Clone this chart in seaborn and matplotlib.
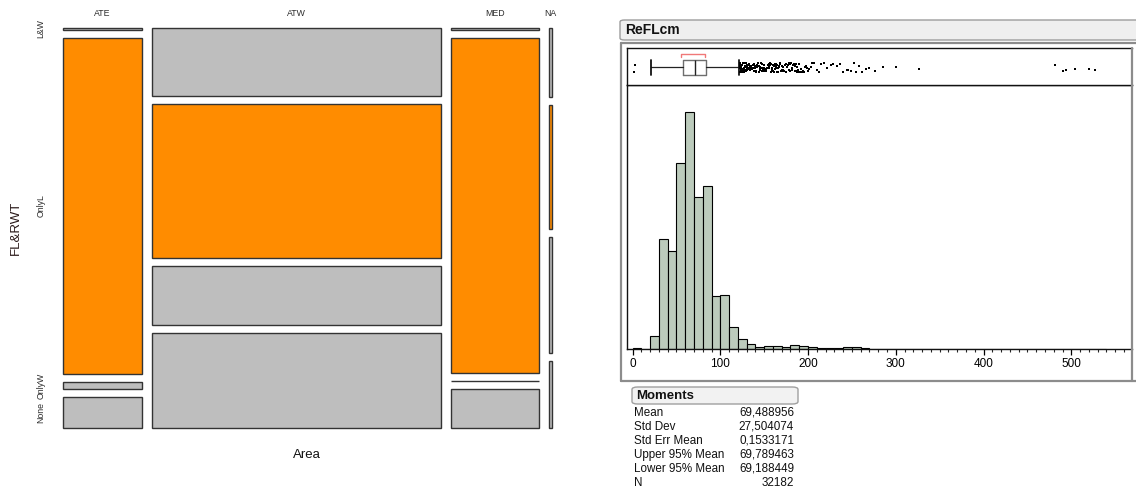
import numpy as np
import pandas as pd
import matplotlib
matplotlib.use("Agg")
import matplotlib.pyplot as plt
from matplotlib import transforms
from matplotlib.patches import FancyBboxPatch
from matplotlib.lines import Line2D
import seaborn as sns

# ---------------- data ----------------
# Mosaic of FL&RWT within Area (counts, rows in fl_rwt order)
areas = ["ATE", "ATW", "MED", "NA"]
fl_rwt = ["L&W", "OnlyL", "OnlyW", "None"]
ate_counts = [30, 4942, 103, 455]
atw_counts = [3679, 8278, 3192, 5141]
med_counts = [25, 5490, 0, 635]
na_counts = [39, 70, 65, 38]

# ReFLcm distribution: counts per 10 cm bin starting at 0
bin_width = 10
reflcm_counts = [30, 8, 380, 3115, 2766, 5274, 6710, 4308, 4612, 1488,
                 1517, 636, 284, 142, 48, 97, 97, 68, 125, 97,
                 48, 28, 28, 20, 48, 48, 20, 14, 12, 12,
                 14, 6, 14, 4, 0, 0, 0, 0, 0, 0,
                 0, 0, 0, 0, 0, 0, 0, 0, 10, 12,
                 12, 12, 12, 6]

# Outlier box plot summary
box_q1, box_median, box_q3 = 57, 71, 84
whisker_low, whisker_high = 21, 121
shortest_half = (55, 83)
outlier_values = [2, 3,
                  122, 122, 122, 123, 123, 123, 124, 124, 124, 125, 125, 125,
                  126, 126, 126, 127, 127, 127, 128, 128, 128, 129, 129, 129,
                  130, 130, 130, 131, 131, 131, 132, 132, 132, 133, 133, 133,
                  134, 134, 135, 135, 135, 136, 136, 137, 137, 138, 138, 138,
                  139, 139, 140, 140, 140, 141, 141, 142, 142, 143, 143, 144,
                  144, 145, 145, 145, 146, 146, 147, 147, 148, 148, 149, 149,
                  150, 150, 150, 151, 151, 152, 152, 153, 153, 154, 154, 155,
                  155, 155, 156, 156, 157, 157, 158, 158, 159, 159, 160, 160,
                  160, 161, 161, 162, 162, 163, 163, 164, 164, 165, 165, 165,
                  166, 166, 167, 167, 168, 168, 169, 170, 170, 171, 172, 172,
                  173, 174, 175, 175, 176, 177, 178, 178, 180, 180, 181, 182,
                  182, 183, 184, 185, 185, 186, 187, 188, 188, 189, 190, 190,
                  191, 192, 193, 194, 195, 196, 198, 199, 200, 201, 203, 205,
                  207, 210, 212, 215, 218, 222, 226, 229, 233, 236, 240, 244,
                  246, 249, 252, 255, 258, 262, 266, 270, 276, 285, 300, 326,
                  482, 490, 494, 504, 520, 527]

moment_labels = ["Mean", "Std Dev", "Std Err Mean", "Upper 95% Mean",
                 "Lower 95% Mean", "N"]
moment_values = ["69,488956", "27,504074", "0,1533171", "69,789463",
                 "69,188449", "32182"]

# ---------------- style ----------------
sns.set_style("white")
plt.rcParams["font.family"] = ["Liberation Sans", "DejaVu Sans"]
narrow = ["Liberation Sans Narrow", "Liberation Sans", "DejaVu Sans"]

W, H = 1136, 490
fig = plt.figure(figsize=(W / 100, H / 100), dpi=100)


def rect(x0, y0, x1, y1):
    return [x0 / W, 1 - y1 / H, (x1 - x0) / W, (y1 - y0) / H]


def fx(x):
    return x / W


def fy(y):
    return 1 - y / H


# ---------------- mosaic plot ----------------
ax_m = fig.add_axes(rect(63, 28, 552, 428))
counts = np.array([ate_counts, atw_counts, med_counts, na_counts], dtype=float).T
row_colors = ["#BEBEBE", "#FF8C00", "#BEBEBE", "#BEBEBE"]
nrow, ncol = counts.shape
hgap, vgap = 10 / 489, 8 / 400
col_totals = counts.sum(axis=0)
widths = col_totals / col_totals.sum() * (1 - hgap * (ncol - 1))
lefts = np.concatenate([[0], np.cumsum(widths + hgap)[:-1]])
row_tops_first = None
for j in range(ncol):
    heights = counts[:, j] / col_totals[j] * (1 - vgap * (nrow - 1))
    tops = np.concatenate([[0], np.cumsum(heights + vgap)[:-1]])
    bars = ax_m.bar(np.full(nrow, lefts[j]), heights, width=widths[j], bottom=tops,
                    align="edge", color=row_colors, edgecolor="#333333",
                    linewidth=1.0)
    for b in bars:
        b.set_clip_on(False)
    if j == 0:
        row_tops_first = tops + heights / 2
ax_m.set_xlim(0, 1)
ax_m.set_ylim(1, 0)
ax_m.axis("off")

top_tr = transforms.blended_transform_factory(ax_m.transData, fig.transFigure)
for j, name in enumerate(areas):
    ax_m.text(lefts[j] + widths[j] / 2, fy(14), name, transform=top_tr,
              ha="center", va="center", fontsize=6.3, color="#2b2b2b",
              family=narrow)
left_tr = transforms.blended_transform_factory(fig.transFigure, ax_m.transData)
for i, name in enumerate(fl_rwt):
    ax_m.text(fx(41), row_tops_first[i], name, transform=left_tr, rotation=90,
              ha="center", va="center", fontsize=6.3, color="#2b2b2b",
              family=narrow)
fig.text(fx(16), fy(228), "FL&RWT", rotation=90, ha="center", va="center",
         fontsize=9.5, color="#2a1a1a", family=narrow)
fig.text(fx(307), fy(455), "Area", ha="center", va="center",
         fontsize=9.5, color="#111111", family=narrow)

# ---------------- ReFLcm report ----------------
xlim = (-6.3, 569.2)

# title bar
fig.add_artist(FancyBboxPatch((fx(620), fy(40)), fx(1140) - fx(620), fy(20) - fy(40),
                              boxstyle="round,pad=0,rounding_size=0.004",
                              transform=fig.transFigure, facecolor="#EFEFEF",
                              edgecolor="#9C9C9C", linewidth=1.0))
fig.text(fx(625), fy(30.5), "ReFLcm", ha="left", va="center", fontsize=10,
         fontweight="bold", color="#111111")

# outer frame
frame_kw = dict(transform=fig.transFigure, color="#8C8C8C", linewidth=1.6)
fig.add_artist(Line2D([fx(621), fx(1136)], [fy(43), fy(43)], **frame_kw))
fig.add_artist(Line2D([fx(621), fx(621)], [fy(43), fy(381)], **frame_kw))
fig.add_artist(Line2D([fx(621), fx(1136)], [fy(381), fy(381)], **frame_kw))
fig.add_artist(Line2D([fx(1132), fx(1132)], [fy(48), fy(381)], **frame_kw))

# histogram panel
ax_h = fig.add_axes(rect(627, 85, 1132, 349))
bin_edges = [i * bin_width for i in range(len(reflcm_counts) + 1)]
hist_df = pd.DataFrame({"ReFLcm": [e + bin_width / 2 for e in bin_edges[:-1]],
                        "n": reflcm_counts})
sns.histplot(data=hist_df, x="ReFLcm", weights="n", bins=bin_edges, ax=ax_h,
             color="#BCCBBC", edgecolor="black", linewidth=0.8, alpha=1)
ax_h.set_xlim(*xlim)
ax_h.set_ylim(0, 7474)
ax_h.set_ylabel("")
ax_h.set_xlabel("")
ax_h.set_yticks([])
ax_h.set_xticks(np.arange(0, 501, 100))
ax_h.set_xticks(np.arange(0, 570, 10), minor=True)
ax_h.tick_params(axis="x", which="major", direction="out", length=4.5,
                 width=0.9, pad=2, labelsize=8.5, colors="black", bottom=True)
ax_h.tick_params(axis="x", which="minor", direction="out", length=2.5,
                 width=0.8, bottom=True)
ax_h.spines["right"].set_visible(False)
for s in ["left", "bottom", "top"]:
    ax_h.spines[s].set_color("#111111")
    ax_h.spines[s].set_linewidth(1.0)

# box plot panel
ax_b = fig.add_axes(rect(627, 48, 1132, 85))
np.random.seed(7)
sns.stripplot(x=outlier_values, ax=ax_b, color="black", marker="s", size=2.0,
              jitter=0.25, linewidth=0, orient="h")
ax_b.bxp([{"med": box_median, "q1": box_q1, "q3": box_q3,
           "whislo": whisker_low, "whishi": whisker_high, "fliers": []}],
         positions=[0], widths=0.8, capwidths=0.8, orientation="horizontal",
         showfliers=False, patch_artist=False,
         boxprops=dict(color="#6E6E6E", linewidth=1.0),
         medianprops=dict(color="#222222", linewidth=1.0),
         whiskerprops=dict(color="#222222", linewidth=0.9),
         capprops=dict(color="#111111", linewidth=1.3))
ax_b.plot([shortest_half[0], shortest_half[0], shortest_half[1], shortest_half[1]],
          [0.56, 0.69, 0.69, 0.56], color="#F07878", linewidth=1.0)
ax_b.set_xlim(*xlim)
ax_b.set_ylim(-0.9, 1.0)
ax_b.set_xticks([])
ax_b.set_yticks([])
ax_b.set_xlabel("")
ax_b.set_ylabel("")
for s in ax_b.spines.values():
    s.set_visible(True)
    s.set_color("#111111")
    s.set_linewidth(1.0)
ax_b.spines["right"].set_visible(False)

# moments table
fig.add_artist(FancyBboxPatch((fx(632), fy(404)), fx(798) - fx(632), fy(387) - fy(404),
                              boxstyle="round,pad=0,rounding_size=0.005",
                              transform=fig.transFigure, facecolor="#F2F2F2",
                              edgecolor="#A0A0A0", linewidth=1.0))
fig.text(fx(636), fy(395.5), "Moments", ha="left", va="center", fontsize=9.5,
         fontweight="bold", color="#111111")
for i, (lab, val) in enumerate(zip(moment_labels, moment_values)):
    y = fy(412.5 + 14 * i)
    fig.text(fx(634), y, lab, ha="left", va="center", fontsize=8.4, color="#111111")
    fig.text(fx(794), y, val, ha="right", va="center", fontsize=8.4, color="#111111")

fig.savefig("out.png", dpi=100, facecolor="white")
